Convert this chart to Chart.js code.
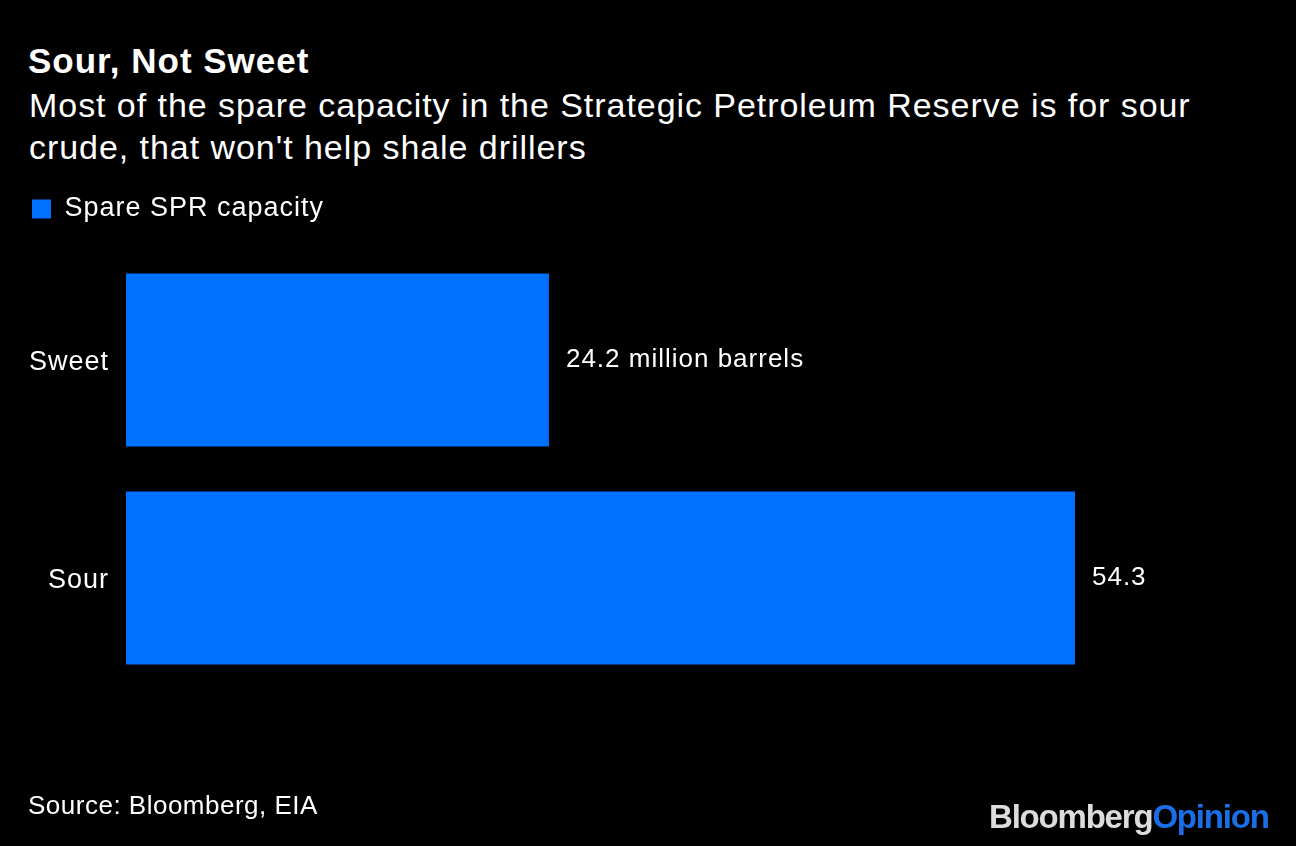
<!DOCTYPE html>
<html>
<head>
<meta charset="utf-8">
<script src="https://cdn.jsdelivr.net/npm/chart.js@4.4.1/dist/chart.umd.min.js"></script>
<style>
  html, body { margin: 0; padding: 0; background: #000; }
  body { width: 1296px; height: 846px; position: relative; overflow: hidden; font-family: "Liberation Sans", Arial, sans-serif; color: #fff; }
  #wrap { position: absolute; left: 0; top: 0; width: 1296px; height: 846px; }
  .title { position: absolute; left: 28px; top: 41px; font-size: 35px; font-weight: bold; letter-spacing: 1px; }
  .sub { position: absolute; left: 29px; top: 84px; font-size: 34px; line-height: 42px; width: 1260px; letter-spacing: 0.95px; white-space: nowrap; }
  .source { position: absolute; left: 28px; top: 790px; font-size: 26px; letter-spacing: 0.5px; }
  .logo { position: absolute; left: 989px; top: 798px; font-size: 33px; font-weight: bold; letter-spacing: -1.2px; color: #dcdcdc; }
  .logo span { color: #1a6fe8; }
</style>
</head>
<body>
<div class="title">Sour, Not Sweet</div>
<div class="sub">Most of the spare capacity in the Strategic Petroleum Reserve is for sour<br>crude, that won't help shale drillers</div>
<div id="wrap"><canvas id="myChart" width="1296" height="846"></canvas></div>
<div class="source">Source: Bloomberg, EIA</div>
<div class="logo">Bloomberg<span>Opinion</span></div>
<script>
const categories = ['Sweet', 'Sour'];
const spareCapacity = [24.2, 54.3];
const valueLabels = ['24.2 million barrels', '54.3'];
const seriesName = 'Spare SPR capacity';

const FONT = '"Liberation Sans", Arial, sans-serif';

// the reference font is a bit wider than Liberation Sans, so space the letters out
const spacing = {
  id: 'spacing',
  beforeUpdate(chart) { chart.ctx.letterSpacing = '1px'; },
  beforeDraw(chart) { chart.ctx.letterSpacing = '1px'; }
};

// draws the value text just right of each bar
const barLabels = {
  id: 'barLabels',
  afterDatasetsDraw(chart) {
    const ctx = chart.ctx;
    const meta = chart.getDatasetMeta(0);
    ctx.save();
    ctx.fillStyle = '#fff';
    ctx.font = '26px ' + FONT;
    ctx.textAlign = 'left';
    ctx.textBaseline = 'middle';
    meta.data.forEach((bar, i) => {
      ctx.fillText(valueLabels[i], bar.x + 17, bar.y);
    });
    ctx.restore();
  }
};

const ctx = document.getElementById('myChart').getContext('2d');
const chart = new Chart(ctx, {
  type: 'bar',
  data: {
    labels: categories,
    datasets: [{
      label: seriesName,
      data: spareCapacity,
      backgroundColor: '#0070ff',
      borderWidth: 0,
      barPercentage: 0.794,
      categoryPercentage: 1
    }]
  },
  options: {
    indexAxis: 'y',
    responsive: false,
    animation: false,
    devicePixelRatio: 1,
    layout: { padding: { top: 185.5, left: 22, right: 26, bottom: 159 } },
    plugins: {
      legend: {
        display: true,
        position: 'top',
        align: 'start',
        labels: {
          color: '#fff',
          boxWidth: 19,
          boxHeight: 19,
          padding: 10,
          font: { family: FONT, size: 27 }
        }
      },
      tooltip: { enabled: false }
    },
    scales: {
      x: {
        position: 'top',
        min: 0,
        max: 65.46,
        grid: { display: false, drawTicks: false },
        border: { display: false },
        ticks: { display: false },
        // empty gap between the legend and the bars
        afterFit(scale) { scale.height = 18.5; }
      },
      y: {
        grid: { display: false, drawTicks: false },
        border: { display: false },
        ticks: {
          color: '#fff',
          padding: 17,
          labelOffset: 3,
          font: { family: FONT, size: 27 }
        },
        afterFit(scale) { scale.width = 104; }
      }
    }
  },
  plugins: [spacing, barLabels]
});
</script>
</body>
</html>
